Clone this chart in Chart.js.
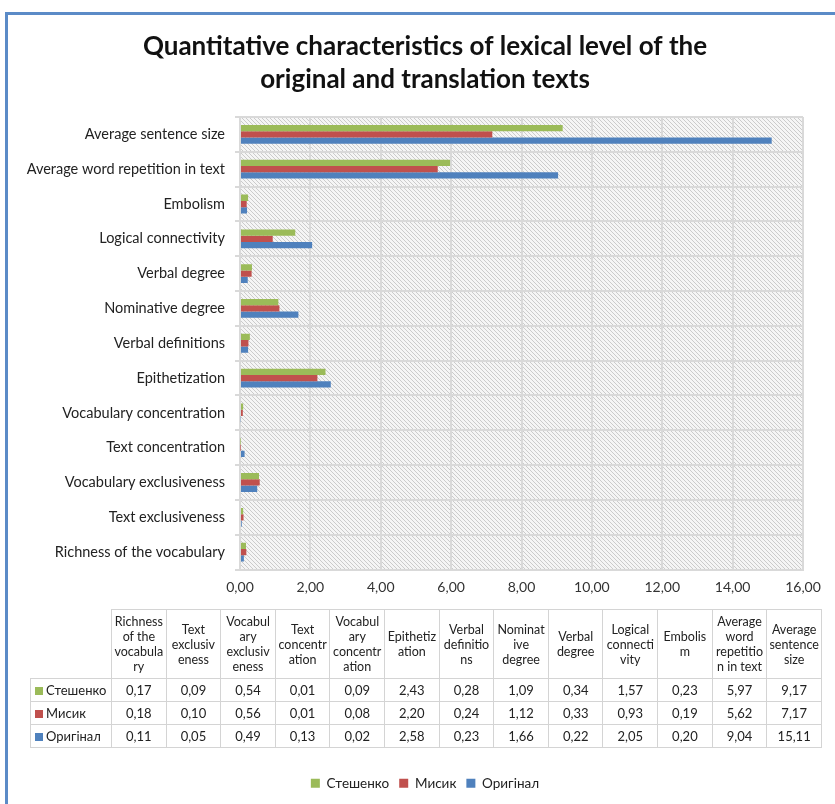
<!DOCTYPE html>
<html>
<head>
<meta charset="utf-8">
<script src="https://cdn.jsdelivr.net/npm/chart.js@4/dist/chart.umd.min.js"></script>
<style>
  html, body { margin: 0; padding: 0; background: #fff; }
  body { width: 835px; height: 804px; position: relative; overflow: hidden; font-family: Lato, 'Noto Sans', sans-serif; }
  #frameTop { position: absolute; left: 5px; top: 12px; width: 830px; height: 3px; background: #5b8bc7; }
  #frameLeft { position: absolute; left: 5px; top: 12px; width: 3px; height: 792px; background: #5b8bc7; }
  #chartBox { position: absolute; left: 0; top: 0; width: 835px; height: 804px; }
  #dataTable { position: absolute; left: 30px; top: 609px; width: 792px; border-collapse: collapse; table-layout: fixed; font-size: 12.5px; color: #222; }
  #dataTable td { border: 1px solid #d4d4d4; text-align: center; padding: 0 2px; overflow-wrap: anywhere; line-height: 15px; }
  #dataTable tr.head td { height: 68px; }
  #dataTable tr.row td { height: 22px; font-size: 13px; }
  #dataTable td.blank { border-top: none; border-left: none; }
  #dataTable td.name { text-align: left; padding-left: 4px; padding-right: 0; white-space: nowrap; }
  .key { display: inline-block; width: 8px; height: 8px; margin-right: 3px; }
</style>
</head>
<body>
<div id="frameTop"></div>
<div id="frameLeft"></div>
<div id="chartBox"><canvas id="lexChart" width="835" height="804"></canvas></div>
<table id="dataTable"></table>
<script>
// categories in table order (left to right); the chart lists them bottom to top
const categories = [
  'Richness of the vocabulary', 'Text exclusiveness', 'Vocabulary exclusiveness',
  'Text concentration', 'Vocabulary concentration', 'Epithetization',
  'Verbal definitions', 'Nominative degree', 'Verbal degree',
  'Logical connectivity', 'Embolism', 'Average word repetition in text',
  'Average sentence size'
];
const steshenko = [0.17, 0.09, 0.54, 0.01, 0.09, 2.43, 0.28, 1.09, 0.34, 1.57, 0.23, 5.97, 9.17];
const mysyk = [0.18, 0.10, 0.56, 0.01, 0.08, 2.20, 0.24, 1.12, 0.33, 0.93, 0.19, 5.62, 7.17];
const original = [0.11, 0.05, 0.49, 0.13, 0.02, 2.58, 0.23, 1.66, 0.22, 2.05, 0.20, 9.04, 15.11];
const seriesNames = ['Стешенко', 'Мисик', 'Оригінал'];
const seriesColors = ['#9bbb59', '#c0504d', '#4f81bd'];
const xTicks = [0, 2, 4, 6, 8, 10, 12, 14, 16];

const fontFamily = "Lato, 'Noto Sans', sans-serif";
const fmt = v => v.toFixed(2).replace('.', ',');

// Build the data table under the chart
function buildTable() {
  const table = document.getElementById('dataTable');
  let html = '<colgroup><col style="width:81px">';
  categories.forEach(() => { html += '<col>'; });
  html += '</colgroup><tr class="head"><td class="blank"></td>';
  categories.forEach(c => { html += '<td>' + c + '</td>'; });
  html += '</tr>';
  [steshenko, mysyk, original].forEach((vals, i) => {
    html += '<tr class="row"><td class="name"><span class="key" style="background:' +
      seriesColors[i] + '"></span>' + seriesNames[i] + '</td>';
    vals.forEach(v => { html += '<td>' + fmt(v) + '</td>'; });
    html += '</tr>';
  });
  table.innerHTML = html;
}

// Hatched plot area background
const hatchPlugin = {
  id: 'hatch',
  afterLayout(chart) {
    // let long category labels spill left of the axis box instead of being clipped
    chart.scales.y.left = 0;
  },
  beforeDraw(chart) {
    const tile = document.createElement('canvas');
    tile.width = 4;
    tile.height = 4;
    const g = tile.getContext('2d');
    g.fillStyle = '#f5f5f5';
    g.fillRect(0, 0, 4, 4);
    g.strokeStyle = '#cbcbcb';
    g.lineWidth = 1;
    g.beginPath();
    g.moveTo(0, 0); g.lineTo(4, 4);
    g.moveTo(-1, 3); g.lineTo(1, 5);
    g.moveTo(3, -1); g.lineTo(5, 1);
    g.stroke();
    const { ctx, chartArea: a } = chart;
    ctx.save();
    ctx.fillStyle = ctx.createPattern(tile, 'repeat');
    ctx.fillRect(a.left, a.top, a.right - a.left, a.bottom - a.top);
    ctx.restore();
  }
};

const rev = arr => arr.slice().reverse();

buildTable();

new Chart(document.getElementById('lexChart'), {
  type: 'bar',
  data: {
    labels: rev(categories),
    datasets: [steshenko, mysyk, original].map((vals, i) => ({
      label: seriesNames[i],
      data: rev(vals),
      backgroundColor: seriesColors[i],
      borderWidth: 0,
      categoryPercentage: 0.54,
      barPercentage: 1
    }))
  },
  options: {
    indexAxis: 'y',
    responsive: false,
    animation: false,
    layout: { padding: { top: 30, right: 32, left: 47, bottom: 4 } },
    plugins: {
      title: {
        display: true,
        text: ['Quantitative characteristics of lexical level of the', 'original and translation texts'],
        color: '#111',
        font: { family: fontFamily, size: 26, weight: 'bold', lineHeight: '33px' },
        padding: { top: 0, bottom: 21 }
      },
      legend: {
        position: 'bottom',
        labels: {
          boxWidth: 9,
          boxHeight: 9,
          padding: 10,
          color: '#222',
          font: { family: fontFamily, size: 13.5 }
        }
      },
      tooltip: { enabled: false }
    },
    scales: {
      x: {
        min: 0,
        max: 16,
        afterBuildTicks(scale) { scale.ticks = xTicks.map(v => ({ value: v })); },
        afterFit(scale) { scale.height = 197; },
        ticks: {
          callback: v => fmt(v),
          color: '#333',
          padding: 10,
          font: { family: fontFamily, size: 14 }
        },
        grid: { color: '#d9d9d9', lineWidth: 2, drawTicks: false },
        border: { color: '#d9d9d9', width: 2 }
      },
      y: {
        afterFit(scale) { scale.width = 193; },
        ticks: {
          color: '#222',
          padding: 10,
          font: { family: fontFamily, size: 14.5 }
        },
        grid: { color: '#d9d9d9', lineWidth: 2, tickLength: 5 },
        border: { color: '#d9d9d9', width: 2 }
      }
    }
  },
  plugins: [hatchPlugin]
});
</script>
</body>
</html>
